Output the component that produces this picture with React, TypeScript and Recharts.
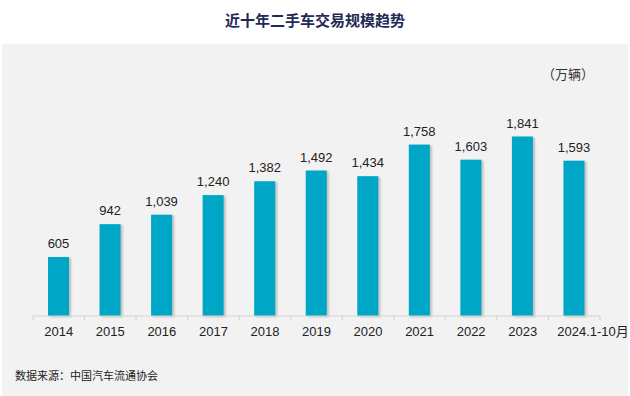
import React from 'react';
import { BarChart, Bar, XAxis, YAxis, LabelList } from 'recharts';

const categories = ['2014', '2015', '2016', '2017', '2018', '2019', '2020', '2021', '2022', '2023', '2024.1-10月'];
const volumes = [605, 942, 1039, 1240, 1382, 1492, 1434, 1758, 1603, 1841, 1593];

const data = categories.map((c, i) => ({ year: c, value: volumes[i] }));

const W = 630;
const H = 396;
const M = { top: 121, right: 30, bottom: 50, left: 33 };
const band = (W - M.left - M.right) / categories.length;

const numFont = '"Liberation Sans", Arial, sans-serif';
const cjkFont = '"Noto Sans CJK SC", "Liberation Sans", sans-serif';

const ShadowBar = (props: any) => {
  const { x, y, width, height } = props;
  return (
    <g>
      <rect x={x + 2} y={y + 1} width={width} height={height} fill="#9a9a9a" opacity={0.6} filter="url(#blur)" />
      <rect x={x} y={y} width={width} height={height} fill="#00A6C6" />
    </g>
  );
};

const Tick = (props: any) => {
  const { x, y, payload, index } = props;
  const isLast = index === categories.length - 1;
  return (
    <g>
      <line x1={x - band / 2} x2={x - band / 2} y1={y - 8} y2={y - 4} stroke="#cfcfcf" />
      {isLast && <line x1={x + band / 2} x2={x + band / 2} y1={y - 8} y2={y - 4} stroke="#cfcfcf" />}
      <text
        x={isLast ? x - 17 : x}
        y={y + 12}
        textAnchor={isLast ? 'start' : 'middle'}
        fontSize={13}
        fill="#222"
        fontFamily={numFont}
      >
        {payload.value.replace('月', '')}
        {payload.value.includes('月') && <tspan fontFamily={cjkFont}>月</tspan>}
      </text>
    </g>
  );
};

export default function App() {
  return (
    <div style={{ position: 'absolute', left: 0, top: 0, width: W, height: H, background: '#fff' }}>
      <div style={{ position: 'absolute', left: 2, top: 44, width: 626, height: 352, background: '#f2f2f2' }} />
      <div
        style={{
          position: 'absolute',
          left: 0,
          top: 9,
          width: W,
          textAlign: 'center',
          fontFamily: cjkFont,
          fontSize: 15,
          fontWeight: 700,
          color: '#1f2a55',
          lineHeight: '22px',
        }}
      >
        近十年二手车交易规模趋势
      </div>
      <div
        style={{
          position: 'absolute',
          left: 542,
          top: 65,
          fontFamily: cjkFont,
          fontSize: 13,
          color: '#333',
          lineHeight: '18px',
        }}
      >
        （万辆）
      </div>
      <div
        style={{
          position: 'absolute',
          left: 15,
          top: 367,
          fontFamily: cjkFont,
          fontSize: 11,
          color: '#222',
          lineHeight: '16px',
        }}
      >
        数据来源：中国汽车流通协会
      </div>
      <div style={{ position: 'absolute', left: 0, top: 0 }}>
        <BarChart width={W} height={H} data={data} margin={M} barCategoryGap="30%">
          <defs>
            <filter id="blur" x="-20%" y="-20%" width="140%" height="140%">
              <feGaussianBlur stdDeviation="1.2" />
            </filter>
          </defs>
          <XAxis
            dataKey="year"
            height={30}
            axisLine={{ stroke: '#d4d4d4' }}
            tickLine={false}
            tick={<Tick />}
            interval={0}
          />
          <YAxis hide domain={[0, 2000]} />
          <Bar dataKey="value" barSize={21} shape={<ShadowBar />} isAnimationActive={false}>
            <LabelList
              dataKey="value"
              position="top"
              offset={9}
              formatter={(v: any) => Number(v).toLocaleString('en-US')}
              style={{ fontSize: 13, fill: '#222', fontFamily: numFont }}
            />
          </Bar>
        </BarChart>
      </div>
    </div>
  );
}
